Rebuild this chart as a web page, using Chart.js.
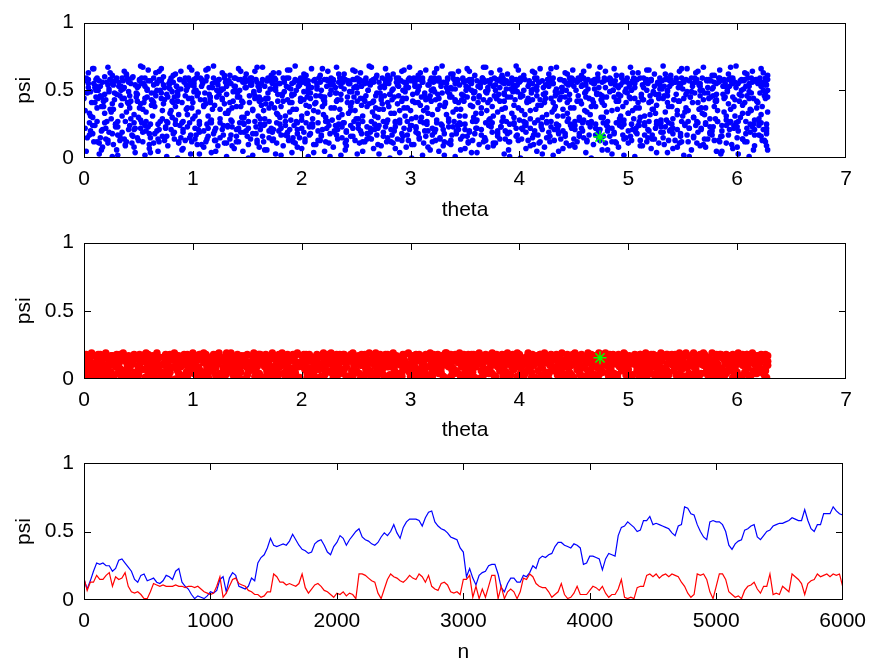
<!DOCTYPE html>
<html>
<head>
<meta charset="utf-8">
<script src="https://cdn.jsdelivr.net/npm/chart.js@4.4.1/dist/chart.umd.min.js"></script>
<style>
  html, body { margin: 0; padding: 0; background: #fff; }
  #wrap { position: relative; width: 875px; height: 662px; background: #fff; }
  canvas { position: absolute; left: 0; }
</style>
</head>
<body>
<div id="wrap">
  <canvas id="c1" width="875" height="220" style="top:0px"></canvas>
  <canvas id="c2" width="875" height="220" style="top:220px"></canvas>
  <canvas id="c3" width="875" height="222" style="top:440px"></canvas>
</div>
<script>
// tick labels
const thetaTicks = [0, 1, 2, 3, 4, 5, 6, 7];
const psiTicks = [0, 0.5, 1];
const nTicks = [0, 1000, 2000, 3000, 4000, 5000, 6000];

// starting point (green asterisk): theta, psi
const startPoint = [4.74, 0.155];

// blue scatter (theta, psi) pairs, in hundredths
const bluePts = [
  0,57,1,22,0,44,2,5,3,15,1,35,4,52,2,59,5,26,3,48,4,63,6,31,
  8,18,9,55,10,41,8,30,11,58,12,12,9,66,13,50,14,3,10,24,12,37,15,46,
  15,53,16,20,17,8,18,38,19,60,20,14,16,45,21,27,17,56,22,67,19,33,18,42,
  22,11,23,49,24,58,25,29,26,1,23,19,27,54,28,43,24,36,29,25,26,61,28,57,
  30,47,31,23,32,56,33,16,30,6,34,39,35,59,36,51,31,27,37,64,33,13,35,44,
  37,52,38,10,39,34,40,58,41,21,38,9,42,46,43,55,44,17,39,62,41,40,43,29,
  45,60,46,26,47,4,48,48,49,15,46,32,50,53,51,57,47,22,52,68,49,42,51,37,
  52,28,53,55,54,12,55,41,56,2,53,59,57,20,58,50,54,36,59,65,56,24,58,45,
  60,18,61,57,62,43,60,7,63,31,64,54,61,25,65,48,62,39,66,63,64,11,67,56,
  67,50,68,14,69,58,70,27,71,44,68,5,72,35,73,60,69,21,74,52,71,66,73,40,
  75,23,76,47,77,9,78,55,79,33,76,16,80,59,81,42,77,26,82,61,79,51,81,30,
  82,56,83,19,84,38,85,53,86,0,83,45,87,12,88,58,84,28,89,64,86,49,88,24,
  90,41,91,27,92,57,93,13,90,6,94,36,95,52,96,59,91,21,97,67,93,46,95,32,
  97,15,98,54,99,44,100,29,101,58,98,3,102,22,103,50,99,37,104,62,101,57,103,17,
  105,48,106,25,107,59,108,10,105,34,109,55,110,8,111,43,106,19,112,65,108,53,110,38,
  112,57,113,14,114,31,115,47,116,27,113,60,117,4,118,52,114,22,119,68,116,41,118,36,
  120,20,121,56,122,45,123,9,120,39,124,58,125,26,126,50,121,13,127,63,123,54,125,29,
  127,44,128,17,129,59,130,33,131,1,128,51,132,24,133,57,129,40,134,61,131,11,133,35,
  135,55,136,23,137,42,138,7,135,28,139,59,140,16,141,48,136,37,142,66,138,53,140,21,
  142,12,143,50,144,58,145,30,146,5,143,45,147,19,148,56,144,38,149,62,146,26,148,52,
  150,57,151,27,152,41,153,14,150,33,154,54,155,2,156,49,151,22,157,64,153,59,155,36,
  157,46,158,18,159,56,160,31,161,8,158,58,162,25,163,43,159,11,164,67,161,52,163,39,
  165,24,166,53,167,44,168,6,165,35,169,59,170,15,171,51,166,29,172,61,168,57,170,20,
  172,40,173,13,174,58,175,37,176,3,173,55,177,26,178,47,174,21,179,63,176,50,178,32,
  180,55,181,22,182,46,183,9,180,30,184,57,185,17,186,53,181,38,187,65,183,42,185,27,
  187,19,188,59,189,41,190,28,191,4,188,52,192,12,193,56,189,34,194,68,191,47,193,24,
  195,50,196,26,197,57,198,15,195,36,199,44,200,7,201,59,196,21,202,62,198,54,200,31,
  202,43,203,14,204,55,205,33,206,1,203,58,207,23,208,48,204,39,209,66,206,51,208,18,
  210,25,211,57,212,40,213,10,210,29,214,53,215,20,216,59,211,35,217,61,213,46,215,13,
  217,56,218,17,219,45,220,32,221,5,218,50,222,27,223,58,219,38,224,64,221,42,223,22,
  225,11,226,54,227,59,228,28,229,8,226,47,230,19,231,52,227,37,232,67,229,57,231,24,
  232,48,233,21,234,56,235,36,236,2,233,43,237,15,238,59,234,30,239,62,236,53,238,26,
  240,58,241,13,242,41,243,33,240,6,244,55,245,24,246,49,241,20,247,65,243,57,245,38,
  247,16,248,52,249,58,250,29,251,3,248,45,252,22,253,56,249,35,254,63,251,42,253,11,
  255,53,256,27,257,44,258,12,255,39,259,59,260,18,261,50,256,31,262,68,258,55,260,23,
  262,40,263,19,264,57,265,34,266,7,263,54,267,25,268,46,264,14,269,61,266,58,268,37,
  270,22,271,56,272,48,273,9,270,30,274,59,275,16,276,52,271,36,277,66,273,43,275,27,
  277,55,278,12,279,41,280,38,281,0,278,58,282,21,283,50,279,28,284,62,281,47,283,17,
  285,45,286,26,287,59,288,14,285,33,289,53,290,4,291,57,286,23,292,64,288,40,290,35,
  292,18,293,50,294,56,295,31,296,8,293,44,297,27,298,58,294,37,299,67,296,52,298,13,
  300,57,301,24,302,42,303,10,300,35,304,55,305,19,306,48,301,29,307,61,303,59,305,22,
  307,41,308,15,309,58,310,30,311,2,308,53,312,26,313,46,309,39,314,65,311,56,313,20,
  315,27,316,54,317,44,318,6,315,37,319,59,320,12,321,51,316,33,322,63,318,57,320,17,
  322,49,323,21,324,57,325,36,326,5,323,43,327,14,328,55,324,28,329,68,326,59,328,25,
  330,56,331,18,332,40,333,32,330,9,334,58,335,23,336,47,331,38,337,62,333,52,335,11,
  337,13,338,51,339,59,340,27,341,1,338,45,342,20,343,57,339,34,344,64,341,42,343,24,
  345,54,346,25,347,43,348,16,345,31,349,56,350,7,351,50,346,36,352,66,348,58,350,21,
  352,45,353,12,354,58,355,39,356,4,353,52,357,27,358,48,354,19,359,61,356,55,358,30,
  360,22,361,57,362,41,363,10,360,33,364,54,365,17,366,59,361,28,367,67,363,46,365,37,
  367,58,368,15,369,49,370,35,371,8,368,56,372,24,373,43,369,13,374,63,371,52,373,29,
  375,26,376,53,377,59,378,11,375,38,379,44,380,20,381,57,376,31,382,65,378,50,380,18,
  382,42,383,23,384,56,385,30,386,3,383,59,387,14,388,51,384,36,389,62,386,47,388,27,
  390,55,391,19,392,45,393,33,390,6,394,58,395,25,396,52,391,12,397,68,393,57,395,39,
  397,16,398,49,399,57,400,28,401,0,398,54,402,22,403,46,399,37,404,61,401,59,403,21,
  405,58,406,26,407,42,408,13,405,32,409,55,410,9,411,50,406,24,412,64,408,44,410,35,
  412,43,413,17,414,59,415,36,416,5,413,51,417,28,418,56,414,20,419,66,416,53,418,11,
  420,23,421,57,422,47,423,8,420,39,424,54,425,15,426,58,421,30,427,62,423,41,425,26,
  427,56,428,12,429,44,430,34,431,2,428,59,432,21,433,49,429,27,434,67,431,55,433,38,
  435,48,436,24,437,58,438,14,435,31,439,52,440,7,441,57,436,19,442,63,438,45,440,36,
  442,18,443,55,444,41,445,29,446,9,443,50,447,25,448,59,444,33,449,65,446,56,448,22,
  450,53,451,27,452,57,453,12,450,37,454,46,455,16,456,58,451,24,457,61,453,42,455,30,
  457,40,458,20,459,59,460,35,461,4,458,54,462,13,463,51,459,28,464,68,461,57,463,26,
  465,25,466,56,467,43,468,10,465,32,469,58,470,22,471,48,466,38,472,62,468,55,470,17,
  472,57,473,14,474,47,475,30,476,6,473,52,477,26,478,59,474,21,479,64,476,44,478,39,
  480,45,481,23,482,58,483,16,480,34,484,55,485,3,486,50,481,27,487,66,483,59,485,12,
  487,19,488,54,489,42,490,36,491,8,488,57,492,24,493,46,489,11,494,61,491,52,493,31,
  495,56,496,28,497,49,498,15,495,38,499,59,500,20,501,53,496,25,502,67,498,41,500,33,
  502,44,503,13,504,57,505,29,506,1,503,50,507,22,508,58,504,35,509,63,506,55,508,18,
  510,24,511,59,512,45,513,9,510,37,514,52,515,17,516,56,511,30,517,65,513,43,515,26,
  517,58,518,21,519,41,520,32,521,7,518,55,522,14,523,48,519,27,524,62,521,57,523,36,
  525,47,526,25,527,56,528,11,525,33,529,59,530,19,531,51,526,39,532,68,528,44,530,23,
  532,15,533,53,534,58,535,28,536,4,533,46,537,26,538,57,534,34,539,61,536,50,538,20,
  540,55,541,22,542,43,543,13,540,38,544,58,545,8,546,52,541,29,547,64,543,56,545,35,
  547,42,548,18,549,59,550,31,551,2,548,54,552,24,553,47,549,12,554,66,551,57,553,37,
  555,27,556,57,557,45,558,6,555,35,559,53,560,16,561,59,556,22,562,63,558,49,560,30,
  562,56,563,11,564,41,565,36,566,9,563,58,567,21,568,50,564,26,569,67,566,55,568,33,
  570,48,571,25,572,58,573,14,570,32,574,44,575,19,576,57,571,37,577,61,573,52,575,23,
  577,17,578,52,579,56,580,29,581,5,578,46,582,27,583,59,579,38,584,65,581,43,583,13,
  585,57,586,20,587,47,588,34,585,3,589,55,590,24,591,50,586,16,592,62,588,58,590,28,
  592,40,593,26,594,59,595,10,596,7,593,53,597,22,598,56,594,36,599,68,596,45,598,31,
  600,23,601,55,602,42,603,30,600,8,604,58,605,14,606,51,601,27,607,63,603,57,605,39,
  607,58,608,18,609,46,610,33,611,1,608,53,612,25,613,59,609,12,614,64,611,49,613,35,
  615,44,616,21,617,57,618,37,615,6,619,55,620,17,621,48,616,28,622,66,618,58,620,24,
  622,26,623,56,624,50,625,13,622,32,626,59,627,20,628,45,623,38,628,61,625,54,627,9,
  4,58,5,17,6,49,7,41,8,24,4,55,9,12,10,52,5,33,11,45,6,20,8,66,
  11,53,12,27,13,44,14,57,15,15,11,50,16,38,17,21,12,59,18,42,14,11,16,6,
  19,47,20,22,21,56,22,13,23,51,19,26,24,58,25,34,20,43,26,18,22,54,24,63,
  26,55,27,10,28,48,29,25,30,59,26,40,31,17,32,53,27,36,33,46,29,23,31,2,
  34,50,35,19,36,57,37,44,38,27,34,53,39,12,40,41,35,31,41,58,37,14,39,61,
  41,56,42,24,43,42,44,59,45,16,41,49,46,21,47,54,42,37,48,45,44,11,46,8,
  49,52,50,13,51,58,52,40,53,26,49,47,54,19,55,55,50,30,56,59,52,22,54,67,
  56,44,57,27,58,51,59,57,60,10,56,53,61,15,62,48,57,34,63,42,59,23,61,4,
  64,59,65,18,66,46,67,55,68,25,64,41,69,12,70,50,65,38,71,57,67,20,69,64,
  71,48,72,16,73,54,74,43,75,22,71,58,76,27,77,45,72,29,78,52,74,13,76,1,
  79,57,80,21,81,49,82,41,83,14,79,55,84,25,85,53,80,35,86,47,82,18,84,62,
  86,42,87,11,88,58,89,51,90,26,86,46,91,19,92,56,87,32,93,59,89,15,91,7,
  94,54,95,23,96,44,97,57,98,17,94,50,99,12,100,41,95,37,101,55,97,26,99,65,
  101,49,102,14,103,59,104,46,105,21,101,53,106,27,107,43,102,31,108,58,104,10,106,3,
  109,56,110,20,111,48,112,40,113,25,109,57,114,16,115,52,110,39,116,45,112,12,114,66,
  116,45,117,26,118,55,119,59,120,13,116,42,121,22,122,50,117,28,123,57,119,18,121,5,
  124,58,125,15,126,51,127,43,128,24,124,47,129,11,130,56,125,36,131,53,127,21,129,61,
  131,47,132,23,133,57,134,41,135,17,131,55,136,27,137,49,132,33,138,59,134,14,136,9,
  139,53,140,12,141,45,142,58,143,26,139,50,144,19,145,42,140,38,146,56,142,22,144,64,
  146,41,147,25,148,59,149,52,150,16,146,57,151,10,152,46,147,30,153,54,149,20,151,0,
  154,56,155,18,156,48,157,44,158,23,154,59,159,13,160,53,155,35,161,42,157,27,159,67,
  161,50,162,21,163,55,164,58,165,12,161,45,166,25,167,40,162,29,168,57,164,16,166,6,
  169,44,170,27,171,57,172,51,173,19,169,48,174,14,175,59,170,37,176,54,172,22,174,63,
  176,58,177,11,178,42,179,55,180,25,176,52,181,17,182,47,177,33,183,59,179,20,181,2,
  184,49,185,24,186,59,187,43,188,13,184,56,189,21,190,51,185,31,191,46,187,16,189,65,
  191,55,192,15,193,47,194,58,195,27,191,41,196,18,197,53,192,36,198,57,194,11,196,8,
  199,42,200,22,201,56,202,49,203,12,199,59,204,26,205,45,200,28,206,54,202,19,204,61,
  206,57,207,17,208,44,209,52,210,23,206,48,211,10,212,58,207,38,213,41,209,25,211,4,
  214,51,215,26,216,59,217,46,218,16,214,55,219,21,220,43,215,34,221,58,217,13,219,66,
  221,45,222,12,223,53,224,57,225,24,221,40,226,18,227,50,222,30,228,56,224,27,226,1,
  229,58,230,20,231,48,232,42,233,14,229,54,234,25,235,59,230,37,236,47,232,17,234,62,
  236,43,237,23,238,56,239,51,240,11,236,58,241,19,242,45,237,32,243,55,239,26,241,9,
  244,55,245,16,246,41,247,58,248,27,244,49,249,13,250,53,245,35,251,59,247,22,249,64,
  251,48,252,25,253,58,254,44,255,18,251,52,256,12,257,57,252,29,258,42,254,20,256,5,
  259,57,260,14,261,50,262,55,263,22,259,46,264,27,265,41,260,38,266,58,262,15,264,67,
  266,42,267,21,268,59,269,48,270,10,266,56,271,24,272,52,267,31,273,45,269,17,271,3,
  274,53,275,19,276,46,277,57,278,26,274,40,279,15,280,55,275,36,281,59,277,23,279,61,
  281,58,282,12,283,43,284,51,285,20,281,47,286,27,287,56,282,33,288,54,284,11,286,7,
  289,46,290,26,291,57,292,42,293,16,289,59,294,22,295,49,290,28,296,53,292,13,294,65,
  296,55,297,17,298,52,299,59,300,24,296,44,301,10,302,47,297,37,303,57,299,21,301,0,
  304,41,305,23,306,58,307,50,308,14,304,53,309,27,310,45,305,30,311,56,307,18,309,63,
  311,57,312,11,313,48,314,43,315,25,311,59,316,20,317,54,312,35,318,46,314,16,316,8,
  319,50,320,22,321,56,322,59,323,13,319,42,324,26,325,47,320,32,326,58,322,19,324,66,
  326,44,327,15,328,53,329,48,330,21,326,57,331,12,332,41,327,39,333,55,329,24,331,2,
  334,59,335,27,336,45,337,52,338,17,334,49,339,23,340,58,335,29,341,43,337,10,339,62,
  341,51,342,18,343,58,344,41,345,26,341,55,346,14,347,47,342,36,348,59,344,21,346,6,
  349,46,350,25,351,53,352,57,353,11,349,42,354,20,355,56,350,31,356,50,352,16,354,64,
  356,57,357,13,358,44,359,49,360,27,356,58,361,22,362,53,357,38,363,45,359,18,361,4,
  364,52,365,21,366,59,367,43,368,15,364,56,369,26,370,48,365,33,371,57,367,12,369,67,
  371,41,372,24,373,55,374,58,375,19,371,50,376,11,377,46,372,28,378,54,374,23,376,9,
  379,58,380,16,381,47,382,52,383,23,379,44,384,27,385,59,380,34,386,42,382,14,384,61,
  386,48,387,20,388,57,389,45,390,12,386,55,391,25,392,51,387,37,393,59,389,18,391,1,
  394,54,395,26,396,43,397,58,398,17,394,49,399,13,400,56,395,30,401,47,397,22,399,65,
  401,45,402,14,403,59,404,50,405,24,401,57,406,19,407,41,402,35,408,53,404,27,406,7,
  409,57,410,22,411,48,412,55,413,10,409,42,414,26,415,58,410,29,416,46,412,15,414,63,
  416,50,417,17,418,56,419,43,420,25,416,59,421,21,422,52,417,39,423,47,419,12,421,3,
  424,44,425,27,426,58,427,53,428,16,424,48,429,23,430,57,425,32,431,41,427,19,429,66,
  431,59,432,13,433,46,434,51,435,22,431,55,436,18,437,43,432,36,438,58,434,25,436,5,
  439,52,440,20,441,57,442,45,443,11,439,49,444,27,445,54,440,31,446,59,442,16,444,62,
  446,43,447,24,448,55,449,58,450,14,446,47,451,21,452,50,447,37,453,56,449,10,451,8,
  454,57,455,18,456,42,457,53,458,26,454,59,459,15,460,48,455,28,461,45,457,22,459,64,
  461,49,462,12,463,58,464,44,465,23,461,54,466,27,467,57,462,34,468,41,464,17,466,0,
  469,55,470,25,471,47,472,59,473,19,469,51,474,13,475,43,470,38,476,56,472,21,474,67,
  476,41,477,16,478,57,479,52,480,24,476,46,481,20,482,58,477,30,483,49,479,11,481,6,
  484,58,485,22,486,50,487,45,488,12,484,56,489,26,490,53,485,35,491,42,487,18,489,61,
  491,47,492,27,493,54,494,59,495,17,491,43,496,14,497,57,492,29,498,51,494,23,496,2,
  499,56,500,11,501,45,502,55,503,25,499,48,504,21,505,59,500,33,506,44,502,16,504,63,
  506,52,507,19,508,58,509,41,510,27,506,57,511,13,512,47,507,37,513,54,509,24,511,9,
  514,43,515,24,516,56,517,50,518,15,514,59,519,20,520,46,515,31,521,58,517,12,519,65,
  521,58,522,17,523,49,524,53,525,22,521,42,526,27,527,55,522,36,528,47,524,14,526,4,
  529,51,530,26,531,57,532,44,533,10,529,54,534,23,535,59,530,28,536,41,532,19,534,62,
  536,46,537,13,538,53,539,58,540,25,536,49,541,18,542,43,537,38,543,56,539,21,541,7,
  544,59,545,21,546,42,547,55,548,16,544,47,549,27,550,51,545,32,551,57,547,11,549,66,
  551,44,552,25,553,58,554,49,555,12,551,56,556,22,557,45,552,34,558,59,554,17,556,1,
  559,55,560,15,561,48,562,57,563,27,559,41,564,19,565,54,560,30,566,46,562,24,564,64,
  566,50,567,22,568,59,569,43,570,14,566,53,571,26,572,57,567,37,573,48,569,10,571,8,
  574,57,575,18,576,45,577,51,578,23,574,58,579,13,580,42,575,29,581,55,577,20,579,61,
  581,42,582,27,583,56,584,59,585,16,581,47,586,24,587,53,582,35,588,44,584,12,586,5,
  589,53,590,11,591,49,592,58,593,21,589,45,594,27,595,56,590,31,596,59,592,17,594,67,
  596,58,597,24,598,43,599,52,600,15,596,55,601,20,602,47,597,38,603,57,599,26,601,3,
  604,46,605,14,606,57,607,41,608,27,604,50,609,22,610,59,605,33,611,53,607,12,609,62,
  611,55,612,19,613,48,614,56,615,25,611,44,616,17,617,58,612,36,618,42,614,23,616,9,
  619,41,620,26,621,59,622,53,623,13,619,57,624,21,625,46,620,29,626,55,622,16,624,63,
  626,57,627,22,628,50,626,44,627,18,628,58,626,12,627,54,628,34,626,48,627,25,628,6
];

// red scatter (theta, psi) pairs, in hundredths
const redPts = [
  0,12,1,3,2,18,3,7,4,15,5,1,6,10,7,19,8,5,2,14,
  9,8,10,17,11,2,12,13,13,18,14,6,15,11,16,16,17,0,11,9,
  18,15,19,4,20,19,21,10,22,7,23,13,24,2,25,17,26,12,20,6,
  27,1,28,14,29,9,30,18,31,4,32,11,33,16,34,7,35,18,29,12,
  36,19,37,6,38,13,39,2,40,10,41,17,42,8,43,14,44,3,38,16,
  45,11,46,18,47,5,48,15,49,0,50,9,51,18,52,12,53,7,47,3,
  54,7,55,13,56,1,57,19,58,11,59,4,60,16,61,9,62,14,56,18,
  63,17,64,3,65,12,66,8,67,19,68,15,69,1,70,10,71,5,65,14,
  72,4,73,16,74,10,75,18,76,6,77,13,78,2,79,18,80,8,74,12,
  81,14,82,9,83,19,84,0,85,12,86,6,87,17,88,3,89,11,83,15,
  90,2,91,11,92,18,93,14,94,5,95,18,96,8,97,12,98,16,92,1,
  99,10,100,19,101,4,102,13,103,17,104,1,105,15,106,7,107,18,101,9,
  108,16,109,5,110,12,111,2,112,18,113,9,114,14,115,0,116,6,110,19,
  117,6,118,14,119,18,120,10,121,3,122,17,123,11,124,19,125,4,119,13,
  126,13,127,1,128,8,129,16,130,12,131,19,132,5,133,10,134,15,128,3,
  135,19,136,10,137,3,138,15,139,7,140,13,141,18,142,1,143,12,137,8,
  144,5,145,17,146,12,147,0,148,14,149,9,150,18,151,6,152,11,146,16,
  153,12,154,7,155,16,156,19,157,2,158,14,159,9,160,18,161,4,155,11,
  162,18,163,11,164,1,165,13,166,9,167,18,168,3,169,15,170,7,164,17,
  171,3,172,15,173,19,174,6,175,17,176,10,177,13,178,2,179,18,173,8,
  180,9,181,18,182,14,183,4,184,11,185,1,186,17,187,12,188,6,182,19,
  189,15,190,2,191,8,192,18,193,13,194,5,195,11,196,19,197,0,191,16,
  198,1,199,12,200,17,201,9,202,18,203,7,204,15,205,4,206,13,200,10,
  207,18,208,8,209,13,210,3,211,16,212,11,213,1,214,18,215,10,209,5,
  216,7,217,16,218,2,219,11,220,19,221,14,222,6,223,13,224,18,218,9,
  225,14,226,5,227,19,228,12,229,1,230,17,231,9,232,18,233,3,227,11,
  234,10,235,18,236,7,237,15,238,4,239,18,240,12,241,1,242,16,236,13,
  243,2,244,13,245,17,246,6,247,19,248,9,249,15,250,11,251,5,245,18,
  252,17,253,4,254,10,255,18,256,13,257,2,258,18,259,7,260,14,254,0,
  261,11,262,19,263,6,264,14,265,1,266,16,267,10,268,19,269,8,263,3,
  270,5,271,14,272,18,273,9,274,16,275,3,276,12,277,18,278,0,272,11,
  279,18,280,9,281,3,282,17,283,11,284,19,285,6,286,14,287,2,281,13,
  288,13,289,0,290,16,291,10,292,5,293,18,294,12,295,18,296,7,290,4,
  297,8,298,19,299,11,300,2,301,15,302,7,303,17,304,13,305,18,299,5,
  306,16,307,6,308,18,309,13,310,3,311,11,312,1,313,17,314,9,308,14,
  315,3,316,15,317,9,318,19,319,12,320,5,321,18,322,8,323,14,317,1,
  324,12,325,18,326,4,327,14,328,8,329,17,330,2,331,11,332,19,326,15,
  333,19,334,10,335,15,336,1,337,18,338,7,339,13,340,4,341,16,335,9,
  342,6,343,17,344,12,345,19,346,2,347,14,348,9,349,18,350,11,344,4,
  351,15,352,3,353,18,354,8,355,13,356,18,357,5,358,16,359,1,353,10,
  360,9,361,14,362,0,363,19,364,11,365,6,366,17,367,3,368,13,362,18,
  369,18,370,7,371,13,372,4,373,16,374,10,375,19,376,12,377,2,371,15,
  378,2,379,18,380,9,381,15,382,6,383,12,384,18,385,1,386,17,380,11,
  387,13,388,5,389,19,390,11,391,16,392,3,393,9,394,18,395,7,389,14,
  396,17,397,10,398,2,399,14,400,18,401,8,402,15,403,5,404,12,398,19,
  405,4,406,16,407,11,408,19,409,7,410,13,411,1,412,18,413,10,407,6,
  414,11,415,1,416,17,417,6,418,14,419,18,420,9,421,15,422,3,416,12,
  423,19,424,12,425,5,426,16,427,0,428,10,429,18,430,8,431,14,425,2,
  432,7,433,15,434,18,435,3,436,12,437,17,438,6,439,19,440,11,434,9,
  441,14,442,2,443,9,444,18,445,13,446,5,447,16,448,10,449,18,443,1,
  450,1,451,19,452,13,453,7,454,17,455,11,456,3,457,15,458,9,452,16,
  459,16,460,8,461,2,462,12,463,19,464,14,465,6,466,18,467,4,461,11,
  468,10,469,17,470,15,471,1,472,8,473,19,474,12,475,5,476,14,470,3,
  477,5,478,13,479,19,480,10,481,16,482,2,483,18,484,7,485,11,479,15,
  486,18,487,4,488,11,489,16,490,1,491,18,492,9,493,14,494,6,488,13,
  495,12,496,19,497,7,498,3,499,15,500,10,501,17,502,0,503,13,497,18,
  504,3,505,11,506,18,507,14,508,6,509,16,510,1,511,18,512,9,506,12,
  513,16,514,6,515,13,516,19,517,10,518,4,519,15,520,11,521,18,515,2,
  522,9,523,18,524,3,525,12,526,17,527,7,528,14,529,2,530,19,524,15,
  531,13,532,1,533,16,534,8,535,18,536,11,537,5,538,17,539,12,533,6,
  540,18,541,10,542,6,543,18,544,3,545,14,546,9,547,19,548,1,542,13,
  549,7,550,15,551,12,552,2,553,19,554,9,555,17,556,4,557,14,551,18,
  558,14,559,3,560,19,561,11,562,7,563,16,564,0,565,13,566,18,560,9,
  567,4,568,17,569,10,570,18,571,13,572,6,573,15,574,1,575,11,569,19,
  576,11,577,19,578,5,579,14,580,9,581,18,582,2,583,16,584,7,578,13,
  585,18,586,8,587,15,588,1,589,12,590,18,591,6,592,10,593,17,587,3,
  594,6,595,13,596,18,597,9,598,16,599,3,600,11,601,19,602,14,596,1,
  603,15,604,2,605,10,606,17,607,5,608,12,609,18,610,8,611,13,605,18,
  612,1,613,14,614,19,615,6,616,11,617,17,618,4,619,16,620,9,614,12,
  621,12,622,18,623,7,624,15,625,3,626,18,627,10,628,13,627,17,622,5,
  4,9,5,16,6,2,7,12,8,6, 13,14,14,4,15,18,16,8,17,11,
  22,1,23,15,24,10,25,5,26,17, 31,12,32,7,33,18,34,2,35,14,
  40,5,41,13,42,9,43,16,44,0, 49,17,50,3,51,11,52,14,53,7,
  58,8,59,18,60,1,61,12,62,5, 67,13,68,6,69,16,70,10,71,3,
  76,1,77,11,78,15,79,5,80,17, 85,16,86,8,87,4,88,13,89,9,
  94,10,95,2,96,17,97,6,98,13, 103,5,104,14,105,9,106,18,107,1,
  112,15,113,7,114,3,115,11,116,16, 121,8,122,18,123,12,124,2,125,14,
  130,3,131,10,132,16,133,7,134,13, 139,11,140,5,141,17,142,1,143,9,
  148,17,149,13,150,3,151,10,152,6, 157,6,158,1,159,12,160,15,161,18,
  166,12,167,16,168,6,169,0,170,11, 175,1,176,8,177,15,178,11,179,4,
  184,15,185,5,186,9,187,18,188,13, 193,7,194,17,195,2,196,12,197,9,
  202,13,203,10,204,18,205,1,206,6, 211,4,212,14,213,7,214,12,215,16,
  220,16,221,3,222,10,223,17,224,6, 229,9,230,13,231,5,232,1,233,15,
  238,18,239,7,240,14,241,9,242,2, 247,2,248,11,249,16,250,6,251,13,
  256,10,257,17,258,3,259,15,260,8, 265,14,266,4,267,18,268,11,269,1,
  274,7,275,12,276,2,277,16,278,9, 283,13,284,1,285,9,286,5,287,17,
  292,2,293,15,294,8,295,13,296,11, 301,17,302,10,303,4,304,9,305,1,
  310,8,311,16,312,13,313,6,314,18, 319,14,320,2,321,11,322,16,323,7,
  328,5,329,10,330,17,331,1,332,13, 337,11,338,3,339,8,340,14,341,18,
  346,16,347,9,348,1,349,12,350,5, 355,3,356,13,357,7,358,18,359,10,
  364,15,365,1,366,12,367,8,368,16, 373,8,374,18,375,4,376,14,377,11,
  382,13,383,6,384,16,385,3,386,9, 391,1,392,11,393,14,394,7,395,17,
  400,16,401,4,402,12,403,10,404,2, 409,9,410,15,411,5,412,17,413,13,
  418,12,419,18,420,2,421,8,422,15, 427,4,428,14,429,11,430,16,431,6,
  436,17,437,1,438,9,439,13,440,4, 445,8,446,12,447,17,448,3,449,11,
  454,14,455,5,456,10,457,18,458,2, 463,6,464,17,465,13,466,1,467,9,
  472,12,473,3,474,16,475,8,476,18, 481,18,482,9,483,6,484,14,485,1,
  490,3,491,13,492,17,493,10,494,7, 499,15,500,7,501,1,502,12,503,16,
  508,9,509,14,510,5,511,18,512,11, 517,1,518,12,519,16,520,7,521,4,
  526,13,527,5,528,10,529,17,530,8, 535,7,536,18,537,3,538,14,539,16,
  544,11,545,16,546,12,547,4,548,9, 553,17,554,8,555,1,556,10,557,14,
  562,5,563,13,564,17,565,2,566,11, 571,14,572,9,573,3,574,16,575,7,
  580,2,581,16,582,11,583,6,584,18, 589,12,590,4,591,14,592,17,593,9,
  598,8,599,17,600,5,601,13,602,1, 607,16,608,10,609,18,610,3,611,14,
  616,4,617,13,618,8,619,17,620,11, 625,14,626,6,627,1,628,10,628,17
];

// psi against n, one value every nStep iterations (n = 0 .. 6000)
const nStep = 25;
const psiBlue = [
  0.15,0.08,0.14,0.21,0.27,0.26,0.27,0.25,0.25,0.21,0.23,0.29,0.30,0.27,0.24,0.21,0.15,0.13,0.18,0.19,
  0.14,0.15,0.16,0.13,0.12,0.14,0.18,0.17,0.15,0.21,0.23,0.13,0.10,0.08,0.04,0.01,0.03,0.02,0.01,0.03,
  0.06,0.05,0.07,0.15,0.17,0.06,0.16,0.20,0.18,0.10,0.09,0.08,0.10,0.16,0.14,0.27,0.31,0.33,0.38,0.45,
  0.40,0.39,0.40,0.41,0.40,0.43,0.48,0.44,0.40,0.37,0.36,0.34,0.35,0.41,0.43,0.44,0.40,0.35,0.33,0.39,
  0.42,0.47,0.45,0.40,0.44,0.47,0.50,0.52,0.46,0.44,0.43,0.41,0.40,0.42,0.46,0.49,0.47,0.50,0.55,0.49,
  0.45,0.53,0.57,0.59,0.59,0.59,0.58,0.54,0.60,0.64,0.65,0.57,0.54,0.52,0.51,0.49,0.46,0.45,0.44,0.38,
  0.35,0.17,0.23,0.16,0.11,0.18,0.20,0.21,0.25,0.26,0.26,0.19,0.09,0.06,0.12,0.16,0.16,0.13,0.13,0.18,
  0.17,0.20,0.25,0.23,0.30,0.32,0.31,0.33,0.34,0.39,0.42,0.42,0.40,0.39,0.38,0.41,0.40,0.38,0.26,0.27,
  0.32,0.32,0.31,0.30,0.22,0.30,0.34,0.33,0.32,0.47,0.53,0.54,0.57,0.55,0.53,0.50,0.51,0.58,0.58,0.61,
  0.55,0.56,0.55,0.54,0.53,0.52,0.49,0.47,0.54,0.55,0.68,0.67,0.63,0.62,0.55,0.50,0.46,0.44,0.57,0.58,
  0.57,0.57,0.55,0.50,0.40,0.37,0.41,0.43,0.44,0.51,0.52,0.54,0.55,0.46,0.44,0.47,0.50,0.51,0.54,0.55,
  0.56,0.56,0.57,0.58,0.60,0.59,0.58,0.58,0.66,0.58,0.52,0.50,0.55,0.55,0.63,0.63,0.63,0.68,0.65,0.63,
  0.62
];
const psiRed = [
  0.16,0.07,0.13,0.13,0.18,0.15,0.15,0.18,0.20,0.10,0.17,0.15,0.16,0.20,0.10,0.06,0.05,0.06,0.04,0.01,
  0.01,0.06,0.12,0.11,0.10,0.11,0.10,0.10,0.10,0.11,0.10,0.10,0.09,0.10,0.10,0.09,0.10,0.08,0.06,0.05,
  0.04,0.05,0.10,0.17,0.02,0.05,0.10,0.15,0.16,0.12,0.11,0.10,0.07,0.06,0.04,0.04,0.02,0.03,0.06,0.06,
  0.19,0.17,0.13,0.13,0.11,0.12,0.11,0.10,0.12,0.19,0.09,0.05,0.08,0.11,0.12,0.10,0.07,0.06,0.04,0.02,
  0.05,0.04,0.06,0.03,0.05,0.04,0.01,0.19,0.19,0.18,0.16,0.14,0.13,0.05,0.01,0.08,0.15,0.19,0.17,0.16,
  0.14,0.13,0.15,0.18,0.16,0.15,0.19,0.17,0.13,0.18,0.10,0.08,0.07,0.12,0.13,0.11,0.06,0.05,0.06,0.04,
  0.15,0.15,0.18,0.02,0.10,0.01,0.08,0.02,0.10,0.18,0.18,0.01,0.10,0.01,0.06,0.08,0.06,0.01,0.06,0.16,
  0.15,0.19,0.17,0.12,0.10,0.09,0.09,0.06,0.02,0.04,0.06,0.12,0.04,0.01,0.02,0.05,0.10,0.04,0.04,0.04,
  0.07,0.10,0.09,0.07,0.10,0.05,0.02,0.04,0.04,0.08,0.15,0.02,0.01,0.02,0.01,0.09,0.10,0.10,0.18,0.19,
  0.17,0.19,0.16,0.18,0.19,0.17,0.19,0.18,0.17,0.13,0.10,0.05,0.02,0.04,0.19,0.18,0.19,0.15,0.06,0.01,
  0.10,0.19,0.19,0.15,0.06,0.04,0.02,0.03,0.01,0.07,0.10,0.11,0.13,0.08,0.05,0.10,0.10,0.19,0.04,0.05,
  0.04,0.10,0.08,0.06,0.19,0.17,0.15,0.12,0.04,0.12,0.14,0.15,0.19,0.17,0.18,0.19,0.17,0.19,0.18,0.19,
  0.10
];

const FONT = '"Liberation Sans", Arial, Helvetica, sans-serif';
Chart.defaults.font.family = FONT;
Chart.defaults.font.size = 21;
Chart.defaults.color = "#000";

const toXY = (arr) => {
  const out = [];
  for (let i = 0; i + 1 < arr.length; i += 2) out.push({ x: arr[i] / 100, y: arr[i + 1] / 100 });
  return out;
};
const series = (vals) => vals.map((v, i) => ({ x: i * nStep, y: v }));

// box round the axes plus MATLAB-style inward ticks on all four sides
const boxPlugin = {
  id: "box",
  afterDraw(chart) {
    const { ctx, chartArea: a, scales } = chart;
    const L = Math.round(a.left), R = Math.round(a.right);
    const T = Math.round(a.top), B = Math.round(a.bottom);
    ctx.save();
    ctx.globalAlpha = 1;
    ctx.globalCompositeOperation = "source-over";
    ctx.fillStyle = "#000";
    ctx.fillRect(L, T, R - L, 1);
    ctx.fillRect(L, B - 1, R - L, 1);
    ctx.fillRect(L, T, 1, B - T);
    ctx.fillRect(R - 1, T, 1, B - T);
    scales.x.ticks.forEach(t => {
      const x = Math.min(R - 1, Math.round(scales.x.getPixelForValue(t.value)));
      ctx.fillRect(x, B - 7, 1, 7);
      ctx.fillRect(x, T, 1, 7);
    });
    scales.y.ticks.forEach(t => {
      const y = Math.min(B - 1, Math.round(scales.y.getPixelForValue(t.value)));
      ctx.fillRect(L, y, 7, 1);
      ctx.fillRect(R - 7, y, 7, 1);
    });
    ctx.restore();
  }
};

function scalesFor(xMin, xMax, xTicks, xTitle, xHeight) {
  return {
    x: {
      type: "linear", min: xMin, max: xMax,
      afterBuildTicks: s => { s.ticks = xTicks.map(v => ({ value: v })); },
      afterFit: s => { s.height = xHeight; },
      grid: { display: false, drawTicks: false },
      border: { display: false },
      ticks: { padding: 9, maxRotation: 0, autoSkip: false, callback: v => String(v) },
      title: { display: true, text: xTitle, padding: { top: 0, bottom: -3 } }
    },
    y: {
      type: "linear", min: 0, max: 1,
      afterBuildTicks: s => { s.ticks = psiTicks.map(v => ({ value: v })); },
      afterFit: s => { s.width = 84; },
      grid: { display: false, drawTicks: false },
      border: { display: false },
      ticks: { padding: 10, callback: v => String(v) },
      title: { display: true, text: "psi", padding: { top: 12, bottom: 0 } }
    }
  };
}

const baseOpts = (padTop) => ({
  responsive: false,
  animation: false,
  devicePixelRatio: 1,
  layout: { padding: { top: padTop, right: 29, bottom: 0, left: 0 } },
  plugins: { legend: { display: false }, tooltip: { enabled: false } }
});

const star = () => ({
  data: [{ x: startPoint[0], y: startPoint[1] }],
  pointStyle: "star", pointRadius: 6.5, pointBorderColor: "#00ff00",
  pointBackgroundColor: "rgba(0,0,0,0)", pointBorderWidth: 1.5
});

new Chart(document.getElementById("c1"), {
  type: "scatter",
  data: { datasets: [
    star(),
    { data: toXY(bluePts), clip: 0, pointRadius: 2.8, pointBorderWidth: 0, pointBackgroundColor: "#0000ff" }
  ] },
  options: { ...baseOpts(22), scales: scalesFor(0, 7, thetaTicks, "theta", 62) },
  plugins: [boxPlugin]
});

new Chart(document.getElementById("c2"), {
  type: "scatter",
  data: { datasets: [
    star(),
    { data: toXY(redPts), clip: 0, pointRadius: 3.8, pointBorderWidth: 0, pointBackgroundColor: "#ff0000" }
  ] },
  options: { ...baseOpts(22), scales: scalesFor(0, 7, thetaTicks, "theta", 61) },
  plugins: [boxPlugin]
});

new Chart(document.getElementById("c3"), {
  type: "scatter",
  data: { datasets: [
    { data: series(psiRed), showLine: true, borderColor: "#ff0000", borderWidth: 1.2, pointRadius: 0 },
    { data: series(psiBlue), showLine: true, borderColor: "#0000ff", borderWidth: 1.2, pointRadius: 0 }
  ] },
  options: { ...baseOpts(23), scales: scalesFor(0, 6000, nTicks, "n", 62) },
  plugins: [boxPlugin]
});
</script>
</body>
</html>
